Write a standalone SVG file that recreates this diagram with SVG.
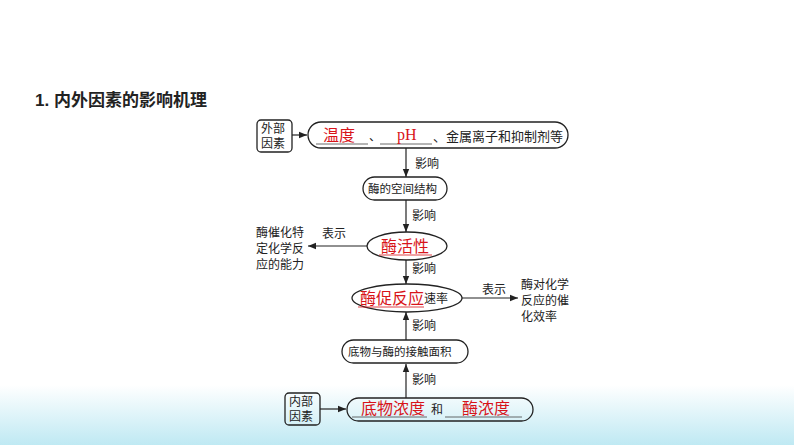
<svg xmlns="http://www.w3.org/2000/svg" width="794" height="445" viewBox="0 0 794 445">
<defs>
<style>
text{font-family:"Liberation Serif","Noto Sans CJK SC",serif;font-size:12px;fill:#222}
.r{fill:#d8141a;font-size:16px}
.s{fill:none;stroke:#222;stroke-width:1.3}
.u{stroke:#444;stroke-width:0.8}
.l{stroke:#222;stroke-width:1.2;fill:none}
</style>
<marker id="a" viewBox="0 0 10 10" refX="10" refY="5" markerWidth="7" markerHeight="7" orient="auto"><path d="M0,1L10,5L0,9z" fill="#222"/></marker>
<linearGradient id="g" x1="0" y1="0" x2="0" y2="1"><stop offset="0" stop-color="#fff"/><stop offset="1" stop-color="#bfe9f3"/></linearGradient>
</defs>
<rect width="794" height="445" fill="#fff"/>
<rect x="0" y="385" width="794" height="60" fill="url(#g)"/>
<text x="35" y="106" style="font-size:17px;font-weight:bold;font-family:'Liberation Sans','Noto Sans CJK SC',sans-serif">1. 内外因素的影响机理</text>
<g id="ext"><rect x="257" y="120" width="35" height="32" rx="4" class="s"/><text x="261" y="133">外部</text><text x="261" y="148">因素</text></g>
<g id="top"><rect x="308" y="122" width="260" height="26" rx="13" class="s"/>
<line x1="316" y1="144" x2="368" y2="144" class="u"/><text x="323" y="141" class="r">温度</text><text x="369" y="141">、</text>
<line x1="380" y1="144" x2="432" y2="144" class="u"/><text x="397" y="140" class="r" style="font-family:'Liberation Serif',serif">pH</text><text x="433" y="141" style="font-size:13px">、金属离子和抑制剂等</text></g>
<g id="struct"><rect x="363" y="177" width="84" height="23" rx="11.5" class="s"/><text x="368" y="193" style="font-size:11.5px">酶的空间结构</text></g>
<g id="act"><ellipse cx="407" cy="246" rx="40" ry="14" class="s"/><text x="381" y="252" class="r">酶活性</text><line x1="379" y1="255" x2="432" y2="255" class="u" style="stroke:#d8141a"/></g>
<g id="left"><text x="256" y="237">酶催化特</text><text x="256" y="253">定化学反</text><text x="256" y="269">应的能力</text></g>
<g id="rate"><ellipse cx="407" cy="298" rx="55" ry="14" class="s"/><text x="360" y="304" class="r">酶促反应</text><text x="424" y="303">速率</text><line x1="358" y1="307" x2="424" y2="307" class="u" style="stroke:#d8141a"/></g>
<g id="right"><text x="521" y="289">酶对化学</text><text x="521" y="305">反应的催</text><text x="521" y="321">化效率</text></g>
<g id="contact"><rect x="342" y="340" width="126" height="23" rx="11.5" class="s"/><text x="348" y="356" style="font-size:11.5px">底物与酶的接触面积</text></g>
<g id="int"><rect x="285" y="393" width="35" height="32" rx="4" class="s"/><text x="289" y="406">内部</text><text x="289" y="421">因素</text></g>
<g id="bottom"><rect x="347" y="398" width="186" height="23" rx="11.5" class="s"/>
<line x1="352" y1="417" x2="427" y2="417" class="u"/><text x="361" y="414" class="r">底物浓度</text><text x="431" y="414">和</text>
<line x1="445" y1="417" x2="522" y2="417" class="u"/><text x="462" y="414" class="r">酶浓度</text></g>
<g id="connectors">
<line x1="292" y1="135" x2="307" y2="135" class="l" marker-end="url(#a)"/>
<line x1="406" y1="148" x2="406" y2="177" class="l" marker-end="url(#a)"/><text x="415" y="168">影响</text>
<line x1="406" y1="200" x2="406" y2="232" class="l" marker-end="url(#a)"/><text x="412" y="220">影响</text>
<line x1="367" y1="246" x2="308" y2="246" class="l" marker-end="url(#a)"/><text x="322" y="238">表示</text>
<line x1="406" y1="260" x2="406" y2="284" class="l" marker-end="url(#a)"/><text x="412" y="273">影响</text>
<line x1="462" y1="298" x2="518" y2="298" class="l" marker-end="url(#a)"/><text x="482" y="294">表示</text>
<line x1="406" y1="340" x2="406" y2="312" class="l" marker-end="url(#a)"/><text x="412" y="330">影响</text>
<line x1="406" y1="398" x2="406" y2="364" class="l" marker-end="url(#a)"/><text x="412" y="384">影响</text>
<line x1="320" y1="409" x2="346" y2="409" class="l" marker-end="url(#a)"/>
</g>
</svg>
